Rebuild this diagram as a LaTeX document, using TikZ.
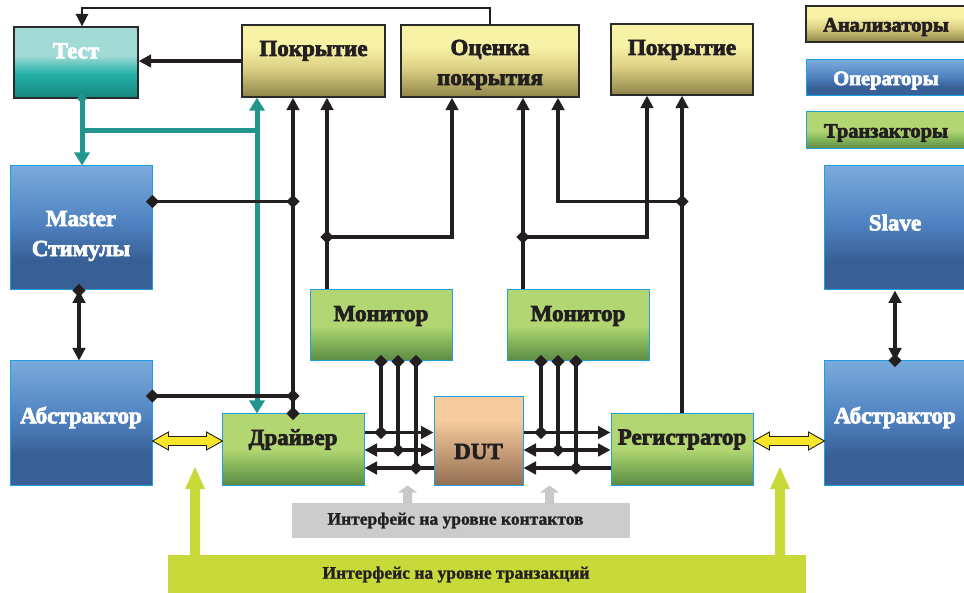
\documentclass[tikz,border=0pt]{standalone}
\usepackage{fontspec}
\setmainfont{Liberation Serif}
\newfontfamily\heavyfont{Liberation Serif}[UprightFont={* Bold}, FakeBold=3]
\newfontfamily\semifont{Liberation Serif}[UprightFont={* Bold}, FakeBold=1.2]
\usetikzlibrary{arrows.meta,shapes.geometric,calc}

% palette
\definecolor{anaTop}{HTML}{F8F2A6}
\definecolor{anaMid}{HTML}{DCD084}
\definecolor{anaBot}{HTML}{8E8448}
\definecolor{opTop}{HTML}{7AAADC}
\definecolor{opMid}{HTML}{4F82C0}
\definecolor{opBot}{HTML}{385F96}
\definecolor{trTop}{HTML}{B2D672}
\definecolor{trMid}{HTML}{8ABA5C}
\definecolor{trBot}{HTML}{5C8A44}
\definecolor{tsTop}{HTML}{A2DAD6}
\definecolor{tsMid}{HTML}{22B0A6}
\definecolor{tsBot}{HTML}{16887E}
\definecolor{dutTop}{HTML}{F6CC9E}
\definecolor{dutBot}{HTML}{946E52}
\definecolor{edgeBlue}{HTML}{1EA0E0}
\definecolor{edgeDark}{HTML}{2A2A2A}
\definecolor{tealLine}{HTML}{22968E}
\definecolor{lineBlk}{HTML}{231F20}
\definecolor{fatYellow}{HTML}{F8E62A}
\definecolor{limeBar}{HTML}{C8D93A}
\definecolor{greyBar}{HTML}{CCCCCC}
\definecolor{greyArrow}{HTML}{C8C8C8}

% vertical fills (bottom = 25bp, top = 75bp)
\pgfdeclareverticalshading{anash}{100bp}{color(0bp)=(anaBot); color(25bp)=(anaBot); color(45bp)=(anaMid); color(60bp)=(anaTop); color(75bp)=(anaTop); color(100bp)=(anaTop)}
\pgfdeclareverticalshading{opsh}{100bp}{color(0bp)=(opBot); color(25bp)=(opBot); color(37bp)=(opBot); color(52bp)=(opMid); color(75bp)=(opTop); color(100bp)=(opTop)}
\pgfdeclareverticalshading{trsh}{100bp}{color(0bp)=(trBot); color(25bp)=(trBot); color(40bp)=(trMid); color(50bp)=(trTop); color(75bp)=(trTop); color(100bp)=(trTop)}
\pgfdeclareverticalshading{tssh}{100bp}{color(0bp)=(tsBot); color(25bp)=(tsBot); color(42bp)=(tsMid); color(55bp)=(tsTop); color(75bp)=(tsTop); color(100bp)=(tsTop)}
\pgfdeclareverticalshading{dutsh}{100bp}{color(0bp)=(dutBot); color(25bp)=(dutBot); color(62bp)=(dutTop); color(75bp)=(dutTop); color(100bp)=(dutTop)}

\tikzset{
  box/.style={rectangle, inner sep=0pt},
  anabox/.style={box, draw=edgeDark, line width=1.3pt, shading=anash},
  opbox/.style={box, draw=edgeBlue, line width=1pt, shading=opsh},
  trbox/.style={box, draw=edgeBlue, line width=1pt, shading=trsh},
  testbox/.style={box, draw=edgeDark, line width=1.3pt, shading=tssh},
  dutbox/.style={box, draw=edgeBlue, line width=1pt, shading=dutsh},
  title/.style={font=\heavyfont\fontsize{23}{30}\selectfont, text=lineBlk, align=center, inner sep=0pt},
  wtitle/.style={title, text=white},
  legtext/.style={font=\heavyfont\fontsize{20.5}{22}\selectfont, text=lineBlk, inner sep=0pt},
  bartext/.style={font=\semifont\fontsize{17.5}{20}\selectfont, text=lineBlk, inner sep=0pt},
  tip/.tip={Triangle[length=12.5pt, width=12.5pt]},
  ttip/.tip={Triangle[length=13pt, width=15pt]},
  wire/.style={draw=lineBlk, line width=3.2pt},
  thinwire/.style={draw=lineBlk, line width=1.7pt},
  tealwire/.style={draw=tealLine, line width=5pt},
  joint/.style={diamond, fill=lineBlk, inner sep=0pt, minimum size=13.5pt},
  tjoint/.style={diamond, fill=tealLine, inner sep=0pt, minimum size=10pt},
  fatarrow/.style={fill=fatYellow, draw=lineBlk, line width=0.9pt},
  limearrow/.style={fill=limeBar},
  greyarrow/.style={fill=greyArrow},
}

\begin{document}
\begin{tikzpicture}[x=1pt, y=-1pt]
\useasboundingbox (0,0) rectangle (964,593);

% ---- analysers and test control
\node[testbox, minimum width=124pt, minimum height=71pt] (test) at (76,62.5) {};
\node[anabox, minimum width=143pt, minimum height=72pt] (cov1) at (313.5,61) {};
\node[anabox, minimum width=178pt, minimum height=72pt] (est) at (490,61) {};
\node[anabox, minimum width=142pt, minimum height=71pt] (cov2) at (682,59.5) {};

% ---- legend
\node[anabox, minimum width=160pt, minimum height=36pt] (legA) at (886,24) {};
\node[opbox,  minimum width=160pt, minimum height=36pt] (legO) at (886,78) {};
\node[trbox,  minimum width=160pt, minimum height=37pt] (legT) at (886,130.5) {};

% ---- operators
\node[opbox, minimum width=142pt, minimum height=124pt] (master) at (81,228) {};
\node[opbox, minimum width=142pt, minimum height=124pt] (slave) at (895,228) {};
\node[opbox, minimum width=142pt, minimum height=124pt] (absL) at (81,423) {};
\node[opbox, minimum width=142pt, minimum height=124pt] (absR) at (895,423) {};

% ---- transactors and the device
\node[trbox, minimum width=142pt, minimum height=71pt] (mon1) at (381,325.5) {};
\node[trbox, minimum width=142pt, minimum height=71pt] (mon2) at (578,325.5) {};
\node[trbox, minimum width=142pt, minimum height=71pt] (drv) at (293,449.5) {};
\node[trbox, minimum width=142pt, minimum height=71pt] (reg) at (682,449.5) {};
\node[dutbox, minimum width=89pt, minimum height=88pt] (dut) at (478.5,441) {};

% ---- interface bars
\node[box, fill=greyBar, minimum width=338pt, minimum height=35pt] (pins) at (461,520.5) {};
\node[box, fill=limeBar, minimum width=638pt, minimum height=40pt] (trans) at (487,575) {};

% ---- box titles
\node[wtitle] at ($(test.north)+(0,24.5)$) {Тест};
\node[title] at ($(cov1.north)+(0,26.5)$) {Покрытие};
\node[title] at ($(est.north)+(0,40.5)$) {Оценка\\покрытия};
\node[title] at ($(cov2.north)+(0,26.5)$) {Покрытие};
\node[legtext] at ($(legA)+(0,3)$) {Анализаторы};
\node[legtext, text=white] at ($(legO)+(0,2.5)$) {Операторы};
\node[legtext] at ($(legT)+(0,2.5)$) {Транзакторы};
\node[wtitle] at ($(master.north)+(0,70.5)$) {Master\\Стимулы};
\node[wtitle] at ($(slave.north)+(0,57)$) {Slave};
\node[wtitle] at ($(absL.north)+(0,57)$) {Абстрактор};
\node[wtitle] at ($(absR.north)+(0,57)$) {Абстрактор};
\node[title] at ($(mon1.north)+(0,26.5)$) {Монитор};
\node[title] at ($(mon2.north)+(0,26.5)$) {Монитор};
\node[title] at ($(drv.north)+(0,26)$) {Драйвер};
\node[title] at ($(reg.north)+(0,26)$) {Регистратор};
\node[title] at ($(dut.north)+(0,55)$) {DUT};
\node[bartext] at (455.5,520.5) {Интерфейс на уровне контактов};
\node[bartext] at (456,574.5) {Интерфейс на уровне транзакций};

% ---- wire columns and rows
\coordinate (cTest) at (82,0);
\coordinate (cMA) at (79,0);
\coordinate (cSA) at (895,0);
\coordinate (cTeal) at (257,0);
\coordinate (cA) at (293,0);
\coordinate (cB) at (327,0);
\coordinate (cC) at (452,0);
\coordinate (cD) at (523,0);
\coordinate (cE) at (558,0);
\coordinate (cF) at (647,0);
\coordinate (cG) at (682,0);
\coordinate (l1) at (381,0);
\coordinate (l2) at (398,0);
\coordinate (l3) at (416,0);
\coordinate (r1) at (541,0);
\coordinate (r2) at (558,0);
\coordinate (r3) at (576,0);
\coordinate (rTop) at (0,8);
\coordinate (rTeal) at (0,130.5);
\coordinate (rM) at (0,201.5);
\coordinate (rMon) at (0,237);
\coordinate (rA) at (0,396);
\coordinate (b1) at (0,432.5);
\coordinate (b2) at (0,450);
\coordinate (b3) at (0,468);
\coordinate (rYel) at (0,441);

% ---- feedback to the test
\draw[thinwire, -{tip}] (est.north) |- (rTop -| cTest) -- (test.north -| cTest);
\draw[wire, -{tip}] (cov1.west) -- (test.east |- cov1.west);

% ---- test control paths
\draw[tealwire, -{ttip}] (test.south -| cTest) -- (master.north -| cTest);
\draw[tealwire] (rTeal -| cTest) -- (rTeal -| cTeal);
\draw[tealwire, {ttip}-{ttip}] (cov1.south -| cTeal) -- (drv.north -| cTeal);
\node[tjoint] at (test.south -| cTest) {};

% ---- coverage paths
\draw[wire, -{tip}] (drv.north -| cA) -- (cov1.south -| cA);
\draw[wire] (master.east |- rM) -- (rM -| cA);
\draw[wire] (absL.east |- rA) -- (rA -| cA);
\draw[wire, -{tip}] (mon1.north -| cB) -- (cov1.south -| cB);
\draw[wire, -{tip}] (rMon -| cB) -| (est.south -| cC);
\draw[wire, -{tip}] (mon2.north -| cD) -- (est.south -| cD);
\draw[wire, -{tip}] (rMon -| cD) -| (cov2.south -| cF);
\draw[wire, -{tip}] (reg.north -| cG) -- (cov2.south -| cG);
\draw[wire, -{tip}] (rM -| cG) -| (est.south -| cE);
\foreach \p in {(drv.north -| cA), (rM -| cA), (rA -| cA), (master.east |- rM), (absL.east |- rA),
                (rMon -| cB), (rMon -| cD), (rM -| cG)}
  \node[joint] at \p {};

% ---- operator / abstractor links
\draw[wire, {tip}-{tip}] (master.south -| cMA) -- (absL.north -| cMA);
\draw[wire, {tip}-{tip}] (slave.south -| cSA) -- (absR.north -| cSA);
\node[joint] at (master.south -| cMA) {};
\node[joint] at (absR.north -| cSA) {};

% ---- pin-level buses
\draw[wire, -{tip}] (drv.east |- b1) -- (dut.west |- b1);
\draw[wire, {tip}-{tip}] (drv.east |- b2) -- (dut.west |- b2);
\draw[wire, -{tip}] (dut.west |- b3) -- (drv.east |- b3);
\draw[wire, -{tip}] (dut.east |- b1) -- (reg.west |- b1);
\draw[wire, {tip}-{tip}] (dut.east |- b2) -- (reg.west |- b2);
\draw[wire, -{tip}] (reg.west |- b3) -- (dut.east |- b3);
\draw[wire] (mon1.south -| l1) -- (b1 -| l1);
\draw[wire] (mon1.south -| l2) -- (b2 -| l2);
\draw[wire] (mon1.south -| l3) -- (b3 -| l3);
\draw[wire] (mon2.south -| r1) -- (b1 -| r1);
\draw[wire] (mon2.south -| r2) -- (b2 -| r2);
\draw[wire] (mon2.south -| r3) -- (b3 -| r3);
\foreach \p in {(mon1.south -| l1), (mon1.south -| l2), (mon1.south -| l3),
                (b1 -| l1), (b2 -| l2), (b3 -| l3),
                (mon2.south -| r1), (mon2.south -| r2), (mon2.south -| r3),
                (b1 -| r1), (b2 -| r2), (b3 -| r3)}
  \node[joint] at \p {};

% ---- transaction-level double arrows
\path[fatarrow] (absL.east |- rYel) -- ++(16,-9) -- ++(0,4.5) -- ++(38,0) -- ++(0,-4.5)
  -- ++(16,9) -- ++(-16,9) -- ++(0,-4.5) -- ++(-38,0) -- ++(0,4.5) -- cycle;
\path[fatarrow] (reg.east |- rYel) -- ++(16,-9) -- ++(0,4.5) -- ++(39,0) -- ++(0,-4.5)
  -- ++(16,9) -- ++(-16,9) -- ++(0,-4.5) -- ++(-39,0) -- ++(0,4.5) -- cycle;

% ---- interface pointers
\coordinate (cL1) at (195,0);
\coordinate (cL2) at (780,0);
\coordinate (cG1) at (407.5,0);
\coordinate (cG2) at (549.5,0);
\coordinate (rLime) at (0,467);
\path[limearrow] (rLime -| cL1) -- ++(-10,22) -- ++(5,0) -- ($(trans.north -| cL1)+(-5,1)$) -- ($(trans.north -| cL1)+(5,1)$) -- ($(rLime -| cL1)+(5,22)$) -- ++(5,0) -- cycle;
\path[limearrow] (rLime -| cL2) -- ++(-10,22) -- ++(5,0) -- ($(trans.north -| cL2)+(-5,1)$) -- ($(trans.north -| cL2)+(5,1)$) -- ($(rLime -| cL2)+(5,22)$) -- ++(5,0) -- cycle;
\path[greyarrow] (dut.south -| cG1) -- ++(-9.5,7) -- ++(5,0) -- ($(pins.north -| cG1)+(-4.5,1)$) -- ($(pins.north -| cG1)+(4.5,1)$) -- ($(dut.south -| cG1)+(4.5,7)$) -- ++(5,0) -- cycle;
\path[greyarrow] (dut.south -| cG2) -- ++(-9.5,7) -- ++(5,0) -- ($(pins.north -| cG2)+(-4.5,1)$) -- ($(pins.north -| cG2)+(4.5,1)$) -- ($(dut.south -| cG2)+(4.5,7)$) -- ++(5,0) -- cycle;
\end{tikzpicture}
\end{document}
